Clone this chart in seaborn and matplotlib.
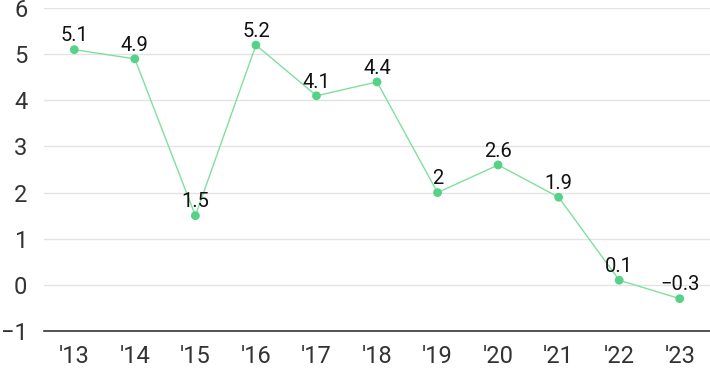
import pandas as pd
import matplotlib
matplotlib.use("Agg")
import matplotlib.pyplot as plt
import seaborn as sns

# Data
years = ["'13", "'14", "'15", "'16", "'17", "'18", "'19", "'20", "'21", "'22", "'23"]
values = [5.1, 4.9, 1.5, 5.2, 4.1, 4.4, 2, 2.6, 1.9, 0.1, -0.3]
value_labels = ["5.1", "4.9", "1.5", "5.2", "4.1", "4.4", "2", "2.6", "1.9", "0.1", "\u22120.3"]
y_ticks = [-1, 0, 1, 2, 3, 4, 5, 6]

df = pd.DataFrame({"year": years, "value": values})

sns.set_style("white")
plt.rcParams['font.family'] = ['Roboto', 'DejaVu Sans']
plt.rcParams['axes.unicode_minus'] = True

fig = plt.figure(figsize=(7.1, 3.71), dpi=100)
ax = fig.add_axes([0.062, 0.108, 0.938, 0.87])

line_color = "#7ee0a0"
dot_color = "#55d285"

sns.lineplot(data=df, x="year", y="value", ax=ax, color=line_color,
             linewidth=1.0, sort=False)
sns.scatterplot(data=df, x="year", y="value", ax=ax, color=dot_color,
                s=40, edgecolor="none", zorder=3)

for i, (v, lab) in enumerate(zip(values, value_labels)):
    ax.annotate(lab, (i, v), xytext=(0, 3), textcoords="offset points",
                ha="center", va="bottom", fontsize=14.5, color="#111111")

ax.set_xlim(-0.5, len(years) - 0.5)
ax.set_ylim(-1, 6)
ax.set_yticks(y_ticks)
ax.set_yticklabels([str(t).replace("-", "\u2212") for t in y_ticks])
ax.set_xlabel("")
ax.set_ylabel("")
ax.yaxis.grid(True, color="#e3e3e3", linewidth=1)
ax.set_axisbelow(True)

for side in ["top", "right", "left"]:
    ax.spines[side].set_visible(False)
ax.spines["bottom"].set_color("#333333")
ax.spines["bottom"].set_linewidth(1.2)

ax.tick_params(axis="both", length=0, labelsize=17, colors="#333333")
ax.tick_params(axis="x", pad=10)
ax.tick_params(axis="y", pad=12)

fig.savefig("out.png", dpi=100)
